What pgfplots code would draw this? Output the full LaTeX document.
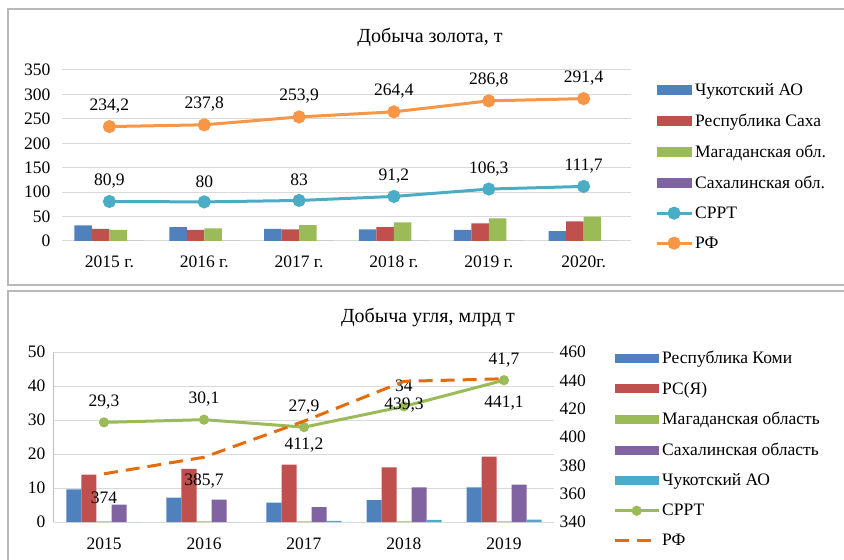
\documentclass[border=0pt]{standalone}
\usepackage{fontspec}
\setmainfont{Liberation Serif}
\usepackage{pgfplots}
\pgfplotsset{compat=1.18}

\definecolor{xblue}{HTML}{4F81BD}
\definecolor{xred}{HTML}{C0504D}
\definecolor{xgreen}{HTML}{9BBB59}
\definecolor{xpurple}{HTML}{8064A2}
\definecolor{xcyan}{HTML}{4BACC6}
\definecolor{xorange}{HTML}{F79646}
\definecolor{xdorange}{HTML}{E46C0A}

\newcommand\tfont{\fontsize{17.5bp}{20bp}\selectfont}

\pgfplotsset{
  /pgf/number format/assume math mode=true,
  /pgf/number format/use comma,
  barleg/.style={legend image code/.code={\fill[##1] (0bp,-5bp) rectangle (35bp,5bp);}},
  barlegb/.style={legend image code/.code={\fill[##1] (0bp,-4.5bp) rectangle (44bp,4.5bp);}},
  lineleg/.style={legend image code/.code={\draw[mark repeat=2,mark phase=2,##1] plot coordinates {(0bp,0bp) (17.5bp,0bp) (35bp,0bp)};}},
  linelegb/.style={legend image code/.code={\draw[mark repeat=2,mark phase=2,##1] plot coordinates {(0bp,0bp) (22bp,0bp) (44bp,0bp)};}},
  lab above/.style={nodes near coords, point meta=y, nodes near coords align=center,
    every node near coord/.append style={font=\tfont, text=black, anchor=center, yshift=20.5bp}},
  lab below/.style={nodes near coords, point meta=y, nodes near coords align=center,
    every node near coord/.append style={font=\tfont, text=black, anchor=center, yshift=-24bp}},
  common/.style={scale only axis, anchor=south west, major tick length=0pt,
    tick label style={font=\tfont}, clip=false,
    grid style={draw=gray!30, line width=1bp}},
}

\begin{document}
\begin{tikzpicture}
\useasboundingbox (0,0) rectangle (844bp,560bp);
\draw[gray!55, line width=1.3bp] (8bp,551bp) rectangle (870bp,275bp);
\draw[gray!55, line width=1.3bp] (8bp,269bp) rectangle (870bp,-10bp);

\node[font=\fontsize{20bp}{24bp}\selectfont] at (430bp,523bp) {Добыча золота, т};
\node[font=\fontsize{20bp}{24bp}\selectfont] at (428bp,242bp) {Добыча угля, млрд т};

% золото
\begin{axis}[common,
  at={(62bp,319bp)}, width=569bp, height=171bp,
  xmin=-0.5, xmax=5.5, ymin=0, ymax=350,
  xtick={0,...,5},
  xticklabels={2015 г.,2016 г.,2017 г.,2018 г.,2019 г.,2020г.},
  ytick={0,50,...,350},
  ymajorgrids, axis line style={draw=none},
  xticklabel style={yshift=-11bp},
  yticklabel style={xshift=-8bp},
  legend style={at={(1.042,0.936)}, anchor=north west, draw=none, fill=none,
    font=\tfont, row sep=13bp, inner sep=0pt},
  legend cell align=left,
]
\addplot[ybar, bar width=17.5bp, bar shift=-26.25bp, fill=xblue, draw=none, barleg]
  coordinates {(0,32)(1,28.5)(2,25)(3,23.6)(4,23)(5,20)};
\addlegendentry{Чукотский АО}
\addplot[ybar, bar width=17.5bp, bar shift=-8.75bp, fill=xred, draw=none, barleg]
  coordinates {(0,25)(1,23)(2,23.6)(3,28.5)(4,36)(5,40)};
\addlegendentry{Республика Саха}
\addplot[ybar, bar width=17.5bp, bar shift=8.75bp, fill=xgreen, draw=none, barleg]
  coordinates {(0,23)(1,26)(2,32.6)(3,38)(4,46.5)(5,50)};
\addlegendentry{Магаданская обл.}
\addplot[ybar, bar width=17.5bp, bar shift=26.25bp, fill=xpurple, draw=none, barleg]
  coordinates {(0,0)(1,0)(2,0)(3,0)(4,0)(5,0)};
\addlegendentry{Сахалинская обл.}
\addplot[xcyan, line width=3bp, mark=*, mark size=5bp, mark options={solid, fill=xcyan}, lineleg, lab above]
  coordinates {(0,80.9)(1,80)(2,83)(3,91.2)(4,106.3)(5,111.7)};
\addlegendentry{СРРТ}
\addplot[xorange, line width=3bp, mark=*, mark size=5bp, mark options={solid, fill=xorange}, lineleg, lab above]
  coordinates {(0,234.2)(1,237.8)(2,253.9)(3,264.4)(4,286.8)(5,291.4)};
\addlegendentry{РФ}
\end{axis}

% уголь, левая ось
\begin{axis}[common,
  at={(54bp,38bp)}, width=500bp, height=170bp,
  xmin=-0.5, xmax=4.5, ymin=0, ymax=50,
  xtick={0,...,4},
  xticklabels={2015,2016,2017,2018,2019},
  ytick={0,10,...,50},
  ymajorgrids,
  axis y line*=left, axis x line*=bottom,
  x axis line style={draw=none},
  y axis line style={draw=gray!50, line width=1bp, -},
  xticklabel style={yshift=-12bp},
  yticklabel style={xshift=-5bp},
]
\addplot[ybar, bar width=15bp, bar shift=-30bp, fill=xblue, draw=none]
  coordinates {(0,9.6)(1,7.2)(2,5.7)(3,6.4)(4,10.2)};
\addplot[ybar, bar width=15bp, bar shift=-15bp, fill=xred, draw=none]
  coordinates {(0,13.9)(1,15.6)(2,16.9)(3,16.1)(4,19.2)};
\addplot[ybar, bar width=15bp, bar shift=0bp, fill=xgreen, draw=none]
  coordinates {(0,0.2)(1,0.2)(2,0.2)(3,0.2)(4,0.2)};
\addplot[ybar, bar width=15bp, bar shift=15bp, fill=xpurple, draw=none]
  coordinates {(0,5.1)(1,6.6)(2,4.4)(3,10.2)(4,11)};
\addplot[ybar, bar width=15bp, bar shift=30bp, fill=xcyan, draw=none]
  coordinates {(0,0)(1,0)(2,0.3)(3,0.6)(4,0.7)};
\addplot[xgreen, line width=3bp, mark=*, mark size=3.5bp, mark options={solid, fill=xgreen}, lab above]
  coordinates {(0,29.3)(1,30.1)(2,27.9)(3,34)(4,41.7)};
\end{axis}

% уголь, правая ось
\begin{axis}[common,
  at={(54bp,38bp)}, width=500bp, height=170bp,
  xmin=-0.5, xmax=4.5, ymin=340, ymax=460,
  xtick=\empty,
  ytick={340,360,...,460},
  axis y line*=right, axis x line=none,
  y axis line style={draw=none},
  yticklabel style={xshift=2bp},
  legend style={at={(1.118,1.018)}, anchor=north west, draw=none, fill=none,
    font=\tfont, row sep=12.8bp, inner sep=0pt},
  legend cell align=left,
]
\addlegendimage{fill=xblue, draw=none, barlegb}
\addlegendentry{Республика Коми}
\addlegendimage{fill=xred, draw=none, barlegb}
\addlegendentry{РС(Я)}
\addlegendimage{fill=xgreen, draw=none, barlegb}
\addlegendentry{Магаданская область}
\addlegendimage{fill=xpurple, draw=none, barlegb}
\addlegendentry{Сахалинская область}
\addlegendimage{fill=xcyan, draw=none, barlegb}
\addlegendentry{Чукотский АО}
\addlegendimage{xgreen, line width=3bp, mark=*, mark size=3.5bp, mark options={solid, fill=xgreen}, linelegb}
\addlegendentry{СРРТ}
\addplot[xdorange, line width=3bp, dash pattern=on 14bp off 8bp, linelegb, lab below]
  coordinates {(0,374)(1,385.7)(2,411.2)(3,439.3)(4,441.1)};
\addlegendentry{РФ}
\end{axis}
\end{tikzpicture}
\end{document}
